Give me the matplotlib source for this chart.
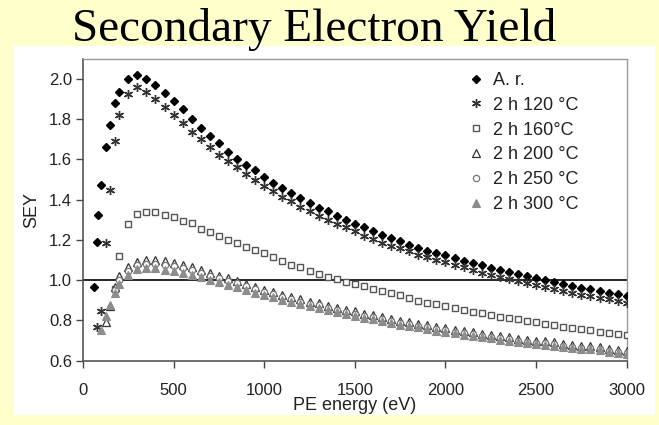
import matplotlib
matplotlib.use("Agg")
import matplotlib.pyplot as plt
from matplotlib.patches import Rectangle

# ---------------- data ----------------
grid = list(range(250, 3001, 50))  # common PE energy grid (eV)

ar_x = [60, 75, 85, 100, 125, 150, 175, 200] + grid
ar_y = [0.965, 1.19, 1.325, 1.475, 1.66, 1.77, 1.88, 1.935,
        2.00, 2.02, 2.00, 1.97, 1.93, 1.89, 1.848, 1.80, 1.755, 1.715,
        1.68, 1.636, 1.602, 1.571, 1.545, 1.51, 1.483, 1.458, 1.433, 1.408,
        1.383, 1.36, 1.342, 1.32, 1.30, 1.28, 1.263, 1.243, 1.226, 1.209,
        1.195, 1.177, 1.16, 1.145, 1.134, 1.123, 1.11, 1.095, 1.085, 1.075,
        1.061, 1.051, 1.04, 1.032, 1.022, 1.013, 1.002, 0.991, 0.982, 0.972,
        0.963, 0.955, 0.947, 0.938, 0.931, 0.922]

h120_x = [75, 100, 125, 150, 175, 200] + grid
h120_y = [0.766, 0.849, 1.185, 1.45, 1.69, 1.82,
          1.925, 1.96, 1.937, 1.902, 1.859, 1.818, 1.782, 1.738, 1.702, 1.662,
          1.624, 1.593, 1.561, 1.526, 1.50, 1.47, 1.441, 1.413, 1.391, 1.364,
          1.342, 1.32, 1.30, 1.279, 1.262, 1.242, 1.221, 1.204, 1.187, 1.171,
          1.158, 1.143, 1.126, 1.113, 1.101, 1.089, 1.076, 1.065, 1.051, 1.038,
          1.027, 1.015, 1.007, 0.997, 0.985, 0.977, 0.965, 0.954, 0.946, 0.935,
          0.927, 0.919, 0.911, 0.905, 0.897, 0.889]

h160_x = [175, 200] + grid
h160_y = [0.955, 1.122,
          1.279, 1.33, 1.339, 1.339, 1.325, 1.314, 1.295, 1.284, 1.256, 1.237,
          1.221, 1.201, 1.184, 1.166, 1.15, 1.135, 1.113, 1.096, 1.077, 1.065,
          1.048, 1.032, 1.018, 1.005, 0.993, 0.982, 0.971, 0.957, 0.944, 0.935,
          0.924, 0.911, 0.899, 0.889, 0.881, 0.872, 0.861, 0.852, 0.844, 0.836,
          0.827, 0.819, 0.811, 0.806, 0.798, 0.791, 0.783, 0.778, 0.769, 0.764,
          0.758, 0.753, 0.744, 0.739, 0.732, 0.728]

h200_x = [125, 150, 175, 200] + grid
h200_y = [0.79, 0.87, 0.965, 1.02,
          1.065, 1.092, 1.098, 1.098, 1.093, 1.085, 1.073, 1.063, 1.05, 1.035,
          1.022, 1.01, 0.996, 0.983, 0.967, 0.952, 0.94, 0.928, 0.916, 0.905,
          0.894, 0.885, 0.874, 0.864, 0.854, 0.845, 0.834, 0.826, 0.818, 0.807,
          0.798, 0.791, 0.784, 0.776, 0.768, 0.763, 0.754, 0.746, 0.741, 0.734,
          0.729, 0.721, 0.717, 0.71, 0.705, 0.70, 0.696, 0.691, 0.685, 0.68,
          0.674, 0.671, 0.666, 0.66, 0.655, 0.65]

h250_x = [175, 200] + grid
h250_y = [0.952, 1.00,
          1.045, 1.075, 1.08, 1.08, 1.075, 1.07, 1.06, 1.051, 1.038, 1.022,
          1.01, 0.998, 0.985, 0.972, 0.955, 0.94, 0.929, 0.917, 0.905, 0.894,
          0.883, 0.875, 0.863, 0.853, 0.843, 0.834, 0.823, 0.816, 0.808, 0.796,
          0.787, 0.781, 0.774, 0.766, 0.758, 0.753, 0.744, 0.736, 0.731, 0.724,
          0.719, 0.711, 0.707, 0.70, 0.695, 0.69, 0.687, 0.682, 0.675, 0.67,
          0.665, 0.662, 0.657, 0.65, 0.645, 0.64]

h300_x = [100, 125, 150, 175, 200] + grid
h300_y = [0.753, 0.822, 0.878, 0.935, 0.98,
          1.027, 1.053, 1.06, 1.058, 1.052, 1.045, 1.037, 1.028, 1.016, 1.002,
          0.99, 0.978, 0.966, 0.953, 0.938, 0.925, 0.915, 0.903, 0.892, 0.881,
          0.871, 0.863, 0.852, 0.842, 0.832, 0.823, 0.813, 0.806, 0.798, 0.786,
          0.778, 0.772, 0.765, 0.757, 0.75, 0.745, 0.736, 0.728, 0.723, 0.716,
          0.711, 0.703, 0.699, 0.693, 0.688, 0.683, 0.68, 0.675, 0.668, 0.664,
          0.659, 0.656, 0.651, 0.644, 0.639, 0.634]

labels = ["A. r.", "2 h 120 \u00b0C", "2 h 160\u00b0C", "2 h 200 \u00b0C",
          "2 h 250 \u00b0C", "2 h 300 \u00b0C"]
x_ticks = [0, 500, 1000, 1500, 2000, 2500, 3000]
y_ticks = [0.6, 0.8, 1.0, 1.2, 1.4, 1.6, 1.8, 2.0]

# ---------------- figure ----------------
W, H = 659, 425
fig = plt.figure(figsize=(W / 100, H / 100), dpi=100)
fig.patch.set_facecolor("#FFFFCC")

# white panel behind chart
panel = Rectangle((14 / W, 1 - 415 / H), (655 - 14) / W, (415 - 46) / H,
                  transform=fig.transFigure, facecolor="white",
                  edgecolor="none", zorder=-10)
fig.patches.append(panel)

fig.text(314 / W, 1 - 40.7 / H, "Secondary Electron Yield",
         family="Liberation Serif", fontsize=34, ha="center", va="baseline",
         color="black", zorder=5)

ax = fig.add_axes([83 / W, 1 - 360.7 / H, (626.7 - 83) / W, (360.7 - 58.7) / H])
ax.set_zorder(1)
ax.set_facecolor("white")

ax.axhline(1.0, color="black", lw=1.2, zorder=1)

ms = 5
ax.plot(ar_x, ar_y, ls="none", marker="D", ms=4.2, mfc="black", mec="black",
        label=labels[0], zorder=3)
ax.plot(h120_x, h120_y, ls="none", marker=(6, 2, 0), ms=6.5, mec="#333333",
        mew=1.0, label=labels[1], zorder=3)
ax.plot(h160_x, h160_y, ls="none", marker="s", ms=ms, mfc="white", mec="#555555",
        mew=1.0, label=labels[2], zorder=3)
ax.plot(h200_x, h200_y, ls="none", marker="^", ms=ms + 0.5, mfc="white",
        mec="#333333", mew=0.9, label=labels[3], zorder=3)
ax.plot(h250_x, h250_y, ls="none", marker="o", ms=ms - 0.5, mfc="white",
        mec="#777777", mew=0.9, label=labels[4], zorder=3)
ax.plot(h300_x, h300_y, ls="none", marker="^", ms=ms + 0.5, mfc="#8c8c8c",
        mec="#8c8c8c", mew=0.8, label=labels[5], zorder=3)

ax.set_xlim(0, 3000)
ax.set_ylim(0.6, 2.1)
ax.set_xticks(x_ticks)
ax.set_xticklabels([str(v) for v in x_ticks])
ax.set_yticks(y_ticks)
ax.set_yticklabels([f"{v:.1f}" for v in y_ticks])

for lab in ax.get_xticklabels() + ax.get_yticklabels():
    lab.set_family("Liberation Sans")
    lab.set_fontsize(12)
    lab.set_color("#222222")

ax.tick_params(axis="x", direction="out", length=5, width=1, color="#444444", pad=11.3)
ax.tick_params(axis="y", direction="out", length=5, width=1, color="#444444", pad=2.9)

for side in ("left", "bottom"):
    ax.spines[side].set_color("#555555")
    ax.spines[side].set_linewidth(1.2)
for side in ("top", "right"):
    ax.spines[side].set_color("#999999")
    ax.spines[side].set_linewidth(1.0)

ax.set_xlabel("PE energy (eV)", family="Liberation Sans", fontsize=13,
              color="#222222", va="baseline")
ax.xaxis.set_label_coords(0.5, (360.7 - 410) / (360.7 - 58.7))
ax.set_ylabel("SEY", family="Liberation Sans", fontsize=13, color="#222222",
              va="baseline")
ax.yaxis.set_label_coords((36 - 83) / (626.7 - 83), 0.5)

leg = ax.legend(loc="upper left", bbox_to_anchor=(466.7 / W, 1 - 72 / H),
                bbox_transform=fig.transFigure, frameon=False,
                prop={"family": "Liberation Sans", "size": 13},
                handlelength=1.0, handletextpad=0.48, labelspacing=0.43,
                borderpad=0, borderaxespad=0, numpoints=1)
for t in leg.get_texts():
    t.set_color("#222222")

fig.savefig("out.png", dpi=100, facecolor=fig.get_facecolor())
